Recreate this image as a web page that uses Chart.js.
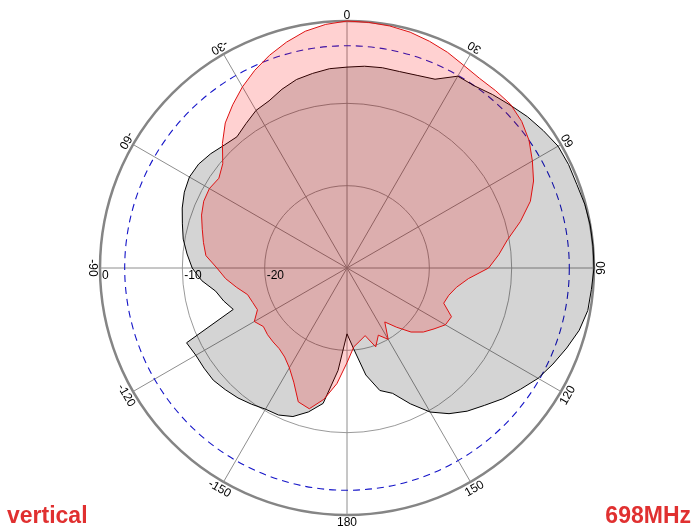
<!DOCTYPE html>
<html>
<head>
<meta charset="utf-8">
<script src="https://cdn.jsdelivr.net/npm/chart.js@4.4.1/dist/chart.umd.min.js"></script>
<style>
  html, body { margin: 0; padding: 0; background: #ffffff; }
  #wrap { position: relative; width: 700px; height: 530px; }
</style>
</head>
<body>
<div id="wrap"><canvas id="c"></canvas></div>
<script>
// Angle categories (degrees, clockwise from top), 5 degree steps
const angleCats = [0,5,10,15,20,25,30,35,40,45,50,55,60,65,70,75,80,85,90,95,100,105,110,115,
  120,125,130,135,140,145,150,155,160,165,170,175,180,185,190,195,200,205,210,215,220,225,230,235,
  240,245,250,255,260,265,270,275,280,285,290,295,300,305,310,315,320,325,330,335,340,345,350,355];

// Red trace (dB)
const redVals = [0,-0.05,-0.15,-0.35,-0.7,-1.1,-1.6,-1.9,-1.9,-1.9,-2.3,-3.0,
  -4.0,-5.0,-6.3,-8.2,-10.2,-11.5,-12.8,-15.2,-16.5,-17.2,-17.5,-16.0,
  -16.2,-17.1,-17.9,-19.0,-20.6,-22.0,-20.0,-21.0,-19.8,-21.5,-21.0,-20.4,
  -18.5,-15.9,-13.8,-12.3,-12.7,-14.7,-16.0,-16.8,-17.2,-17.3,-17.4,-17.6,
  -17.0,-18.0,-17.8,-17.5,-16.4,-15.2,-14.2,-12.8,-12.3,-11.8,-11.2,-10.8,
  -10.7,-11.0,-10.3,-8.6,-7.0,-5.8,-4.6,-3.5,-2.5,-1.6,-0.8,-0.3];

// Black / gray trace (dB)
const blackVals = [-5.6,-5.4,-5.3,-5.3,-5.1,-4.7,-3.1,-3.0,-2.5,-2.0,-1.4,-0.9,
  -0.4,-0.3,-0.3,-0.1,0,0,0,-0.2,-0.3,-0.8,-1.6,-2.4,
  -3.2,-4.3,-5.3,-6.4,-7.3,-8.4,-9.8,-11.8,-13.8,-14.6,-16.8,-20.0,
  -22.0,-17.5,-13.3,-11.9,-10.8,-10.3,-10.2,-9.8,-9.4,-9.1,-8.8,-8.8,
  -8.8,-8.5,-15.3,-14.5,-13.8,-12.3,-11.2,-10.5,-9.8,-9.3,-8.7,-8.2,
  -7.9,-8.0,-8.4,-8.9,-9.2,-8.6,-7.9,-7.6,-6.9,-6.3,-6.0,-5.7];

// Angle tick positions and their printed labels
const angleTickValues = [0,30,60,90,120,150,180,210,240,270,300,330];
const angleTickLabels = ['0','30','60','90','120','150','180','-150','-120','-90','-60','-30'];

// Radial ticks (dB) and reference level
const radialTicks = [0,-10,-20];
const refLevel = -3;
const leftTitle = 'vertical';
const rightTitle = '698MHz';

const overlay = {
  id: 'overlay',
  beforeDatasetsDraw(chart) {
    const s = chart.scales.r, ctx = chart.ctx;
    const rr = s.getDistanceFromCenterForValue(refLevel);
    ctx.save();
    ctx.strokeStyle = '#1515c8';
    ctx.lineWidth = 1.1;
    ctx.setLineDash([7, 5]);
    ctx.beginPath();
    ctx.arc(s.xCenter, s.yCenter, rr, 0, Math.PI * 2);
    ctx.stroke();
    ctx.restore();
  },
  afterDraw(chart) {
    const s = chart.scales.r, ctx = chart.ctx;
    ctx.save();
    ctx.fillStyle = '#000000';
    ctx.font = '12px "Liberation Sans", Arial, sans-serif';
    const R = s.drawingArea + 8;
    angleTickValues.forEach((a, i) => {
      const idx = angleCats.indexOf(a);
      const p = s.getPointPosition(idx, R);
      const th = s.getIndexAngle(idx);
      ctx.save();
      ctx.translate(p.x, p.y);
      ctx.rotate(th + Math.PI);
      ctx.textAlign = 'center';
      ctx.textBaseline = 'middle';
      ctx.fillText(angleTickLabels[i], 0, 0);
      ctx.restore();
    });
    radialTicks.forEach(v => {
      const d = s.getDistanceFromCenterForValue(v);
      ctx.textAlign = 'left';
      ctx.textBaseline = 'top';
      ctx.fillText(String(v), s.xCenter - d + 2, s.yCenter + 2);
    });
    ctx.font = 'bold 23px "Liberation Sans", Arial, sans-serif';
    ctx.fillStyle = '#e03030';
    ctx.textBaseline = 'alphabetic';
    ctx.textAlign = 'left';
    ctx.fillText(leftTitle, 7, 523);
    ctx.textAlign = 'right';
    ctx.fillText(rightTitle, 691, 523);
    ctx.restore();
  }
};

new Chart(document.getElementById('c'), {
  type: 'radar',
  data: {
    labels: angleCats.map(String),
    datasets: [
      {
        label: 'red',
        data: redVals,
        borderColor: '#dd1111',
        backgroundColor: 'rgba(255,0,0,0.18)',
        borderWidth: 1,
        fill: 'start',
        pointRadius: 0,
        tension: 0
      },
      {
        label: 'black',
        data: blackVals,
        borderColor: '#000000',
        backgroundColor: 'rgba(0,0,0,0.17)',
        borderWidth: 1,
        fill: 'start',
        pointRadius: 0,
        tension: 0
      }
    ]
  },
  options: {
    responsive: true,
    maintainAspectRatio: false,
    animation: false,
    layout: { padding: { top: 21, bottom: 15, left: 100, right: 106 } },
    plugins: { legend: { display: false }, tooltip: { enabled: false }, title: { display: false } },
    elements: { line: { tension: 0 }, point: { radius: 0 } },
    scales: {
      r: {
        min: -30,
        max: 0,
        ticks: { display: false, stepSize: 10 },
        pointLabels: { display: false },
        grid: {
          circular: true,
          color: c => (c.tick && c.tick.value === 0) ? '#858585' : (c.tick && c.tick.value === -30 ? 'rgba(0,0,0,0)' : '#9a9a9a'),
          lineWidth: c => (c.tick && c.tick.value === 0) ? 2.5 : 1
        },
        angleLines: {
          color: c => angleTickValues.includes(angleCats[c.index]) ? '#8e8e8e' : 'rgba(0,0,0,0)',
          lineWidth: c => angleTickValues.includes(angleCats[c.index]) ? 1 : 0
        }
      }
    }
  },
  plugins: [overlay]
});
</script>
</body>
</html>
